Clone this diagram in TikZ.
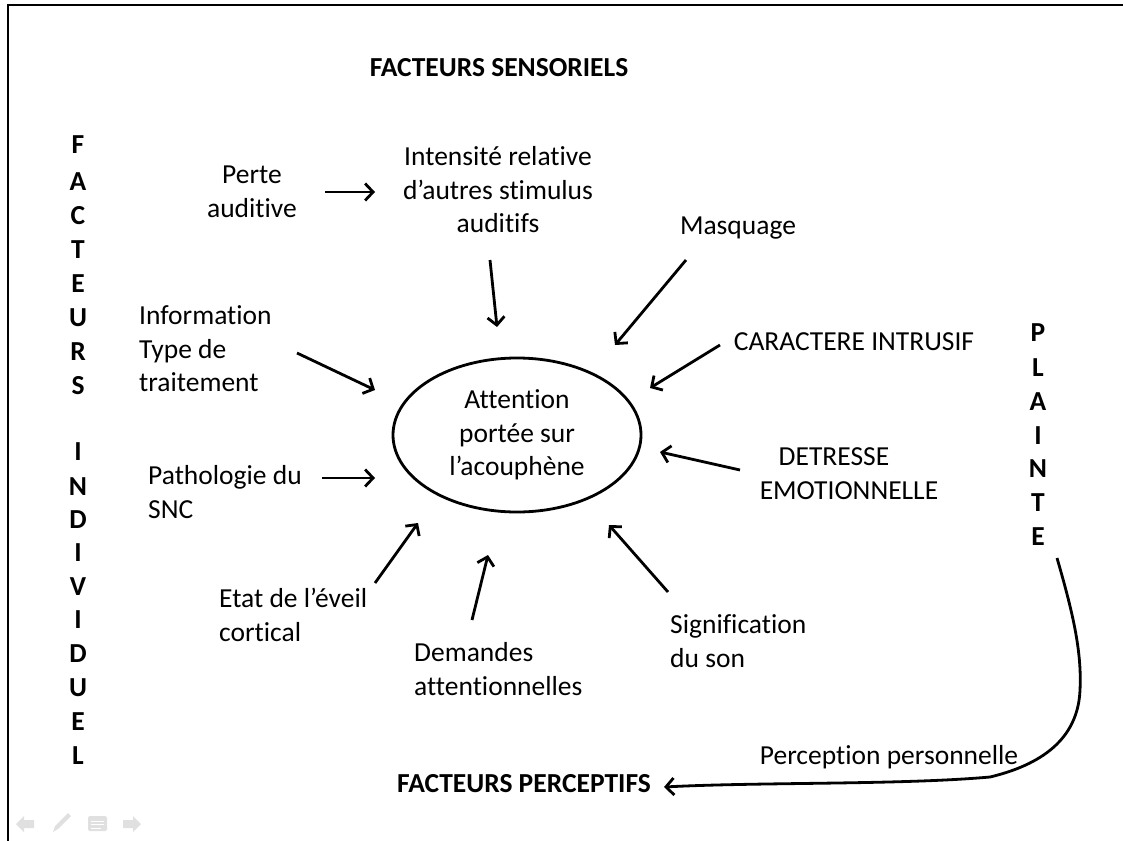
\documentclass[tikz,border=0pt]{standalone}
\usepackage{fontspec}
\setmainfont{Carlito}[RawFeature=-liga]
\usetikzlibrary{arrows.meta}
\begin{document}
\begin{tikzpicture}[x=1pt,y=-1pt,
  lbl/.style={inner sep=0pt, font=\fontsize{27.5}{33.5}\selectfont},
  lblL/.style={lbl, align=left},
  lblC/.style={lbl, align=center},
  hdr/.style={inner sep=0pt, font=\fontsize{27.5}{34}\selectfont\bfseries},
  arr/.style={line width=2.8pt, -{Straight Barb[length=8pt,width=17pt,line width=2.8pt]}},
  frame/.style={line width=2.4pt},
  navicon/.style={fill=black!12, draw=none}]
\useasboundingbox (0,0) rectangle (1123,840);
% frame
\draw[frame] (8,842) -- (8,5) -- (1125,5);

% headings
\node[hdr] (sens) at (499,68) {FACTEURS SENSORIELS};
\node[hdr] (perc) at (524,784) {FACTEURS PERCEPTIFS};
\foreach \l/\yy [count=\i] in {F/145,A/182,C/216,T/250,E/284,U/318,R/352,S/386,I/452,N/487,D/520,I/553,V/587,I/620,D/654,U/688,E/722,L/756}
  \node[hdr] (ind\i) at (78,\yy) {\l};
\foreach \l/\yy [count=\i] in {P/333,L/368,A/402,I/436,N/469,T/503,E/537}
  \node[hdr] (pl\i) at (1038,\yy) {\l};

% central ellipse
\draw[line width=2.8pt] (517,435) ellipse [x radius=124, y radius=77];
\node[lblC] (att) at (517,435) {Attention\\port\'ee sur\\l’acouph\`ene};

% factor labels
\node[lblC] (perte) at (252,192) {Perte\\auditive};
\node[lblC] (inten) at (498,190) {Intensit\'e relative\\d’autres stimulus\\auditifs};
\node[lbl] (masq) at (738,228) {Masquage};
\node[lblL, anchor=west] (info) at (139,349) {Information\\Type de\\traitement};
\node[lbl] (carac) at (854,342) {CARACTERE INTRUSIF};
\node[lblL, anchor=west] (patho) at (148,492) {Pathologie du\\SNC};
\node[lbl] (detr1) at (834,457) {DETRESSE};
\node[lbl] (detr2) at (849,491) {EMOTIONNELLE};
\node[lblL, anchor=west] (etat) at (219,615) {Etat de l’\'eveil\\cortical};
\node[lblL, anchor=west] (dem) at (414,669) {Demandes\\attentionnelles};
\node[lblL, anchor=west] (sig) at (670,641) {Signification\\du son};
\node[lbl] (pers) at (889,757) {Perception personnelle};

% arrow end points
\coordinate (a1s) at (325,192); \coordinate (a1e) at (375,192);
\coordinate (a2s) at (490,260); \coordinate (a2e) at (497,327);
\coordinate (a3s) at (686,260); \coordinate (a3e) at (615,345);
\coordinate (a4s) at (297,353); \coordinate (a4e) at (375,390);
\coordinate (a5s) at (720,345); \coordinate (a5e) at (650,388);
\coordinate (a6s) at (322,478); \coordinate (a6e) at (375,478);
\coordinate (a7s) at (740,470); \coordinate (a7e) at (660,452);
\coordinate (a8s) at (375,583); \coordinate (a8e) at (418,523);
\coordinate (a9s) at (472,620); \coordinate (a9e) at (488,555);
\coordinate (a10s) at (668,592); \coordinate (a10e) at (609,525);
\coordinate (cs) at (1057,558); \coordinate (ce) at (664,787);

\draw[arr] (a1s) -- (a1e);
\draw[arr] (a2s) -- (a2e);
\draw[arr] (a3s) -- (a3e);
\draw[arr] (a4s) -- (a4e);
\draw[arr] (a5s) -- (a5e);
\draw[arr] (a6s) -- (a6e);
\draw[arr] (a7s) -- (a7e);
\draw[arr] (a8s) -- (a8e);
\draw[arr] (a9s) -- (a9e);
\draw[arr] (a10s) -- (a10e);

% curved connector
\draw[arr] (cs) .. controls (1072,610) and (1082,650) .. (1080,690)
  .. controls (1078,740) and (1040,765) .. (990,777)
  .. controls (900,785) and (760,782) .. (ce);

% navigation icons (faint)
\fill[navicon] (16,824) -- (24,816) -- (24,820) -- (34,820) -- (34,828) -- (24,828) -- (24,832) -- cycle;
\fill[navicon] (53,832) -- (55,826) -- (68,813) -- (71,816) -- (58,829) -- cycle;
\fill[navicon, rounded corners=1.5pt] (88,816) rectangle (107,831);
\draw[white, line width=1pt] (91,821) -- (104,821) (91,824.5) -- (104,824.5) (91,828) -- (101,828);
\fill[navicon] (141,824) -- (133,816) -- (133,820) -- (123,820) -- (123,828) -- (133,828) -- (133,832) -- cycle;
\end{tikzpicture}
\end{document}
